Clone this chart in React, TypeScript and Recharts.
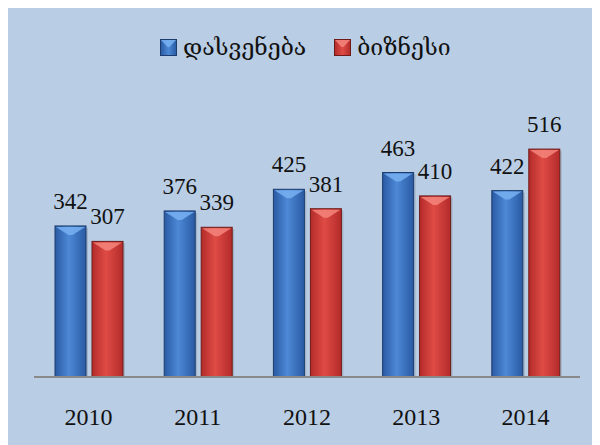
import { BarChart, Bar, XAxis, YAxis, Legend, LabelList } from "recharts";

const years = ["2010", "2011", "2012", "2013", "2014"];
const leisure = [342, 376, 425, 463, 422];
const business = [307, 339, 381, 410, 516];

const LEISURE = "დასვენება";
const BUSINESS = "ბიზნესი";

const data = years.map((year, i) => ({
  year,
  leisure: leisure[i],
  business: business[i],
}));

const PALETTE = {
  blue: { edge: "#2a5aa3", mid: "#4d89d6", bevel: "#78b2f2", line: "#1c3c6e" },
  red: { edge: "#b32b2a", mid: "#df4b45", bevel: "#f4857c", line: "#6e1a18" },
};

const SERIF = "'Liberation Serif', 'Times New Roman', serif";

function BevelBar(props: any) {
  const { x, y, width, height, tone } = props;
  if (!height || height <= 0) return null;
  const c = PALETTE[tone as "blue" | "red"];
  const id = `grad-${tone}`;
  const bevel = Math.min(9, width / 3);
  return (
    <g>
      <defs>
        <linearGradient id={id} x1="0" y1="0" x2="1" y2="0">
          <stop offset="0%" stopColor={c.edge} />
          <stop offset="45%" stopColor={c.mid} />
          <stop offset="100%" stopColor={c.edge} />
        </linearGradient>
      </defs>
      <rect x={x + 2} y={y + 2} width={width} height={height - 2} fill="rgba(0,0,0,0.12)" />
      <rect x={x} y={y} width={width} height={height} fill={`url(#${id})`} stroke={c.line} strokeWidth={1} />
      <polygon
        points={`${x + 1},${y + 1} ${x + width - 1},${y + 1} ${x + width / 2 + 2},${y + bevel} ${x + width / 2 - 2},${y + bevel}`}
        fill={c.bevel}
        opacity={0.85}
      />
    </g>
  );
}

function ValueLabel(props: any) {
  const { x, y, width, value } = props;
  return (
    <text
      x={Number(x) + Number(width) / 2}
      y={Number(y) - 17}
      textAnchor="middle"
      style={{ fill: "#111", fontSize: 23, fontFamily: SERIF }}
    >
      {value}
    </text>
  );
}

function LegendBox() {
  const item = (tone: "blue" | "red", label: string) => (
    <div style={{ display: "flex", alignItems: "center", marginRight: 28 }}>
      <svg width={17} height={17} style={{ marginRight: 6 }}>
        <defs>
          <linearGradient id={`lg-${tone}`} x1="0" y1="0" x2="1" y2="0">
            <stop offset="0%" stopColor={PALETTE[tone].edge} />
            <stop offset="50%" stopColor={PALETTE[tone].mid} />
            <stop offset="100%" stopColor={PALETTE[tone].edge} />
          </linearGradient>
        </defs>
        <rect x={0.5} y={0.5} width={16} height={16} fill={`url(#lg-${tone})`} stroke={PALETTE[tone].line} />
        <polygon points="1,1 16,1 9.5,8 7.5,8" fill={PALETTE[tone].bevel} opacity={0.85} />
      </svg>
      <span style={{ fontFamily: "'DejaVu Serif', 'DejaVu Sans'", fontSize: 23, color: "#111" }}>{label}</span>
    </div>
  );
  return (
    <div style={{ display: "flex", alignItems: "center" }}>
      {item("blue", LEISURE)}
      {item("red", BUSINESS)}
    </div>
  );
}

export default function App() {
  return (
    <div style={{ marginLeft: -4, width: 596, height: 437, background: "#b9cde4" }}>
      <BarChart
        width={596}
        height={437}
        data={data}
        margin={{ top: 54, right: 20, bottom: 8, left: 30 }}
        barSize={31}
        barGap={6}
      >
        <Legend
          verticalAlign="top"
          height={50}
          content={() => <LegendBox />}
          wrapperStyle={{ top: 26, left: 156, width: "auto" }}
        />
        <XAxis
          dataKey="year"
          axisLine={{ stroke: "#8a8a8a", strokeWidth: 2 }}
          tickLine={false}
          tickMargin={25}
          height={60}
          tick={{ fill: "#111", fontSize: 24, fontFamily: SERIF }}
        />
        <YAxis hide domain={[0, 600]} />
        <Bar
          dataKey="leisure"
          name={LEISURE}
          isAnimationActive={false}
          shape={(p: any) => <BevelBar {...p} tone="blue" />}
        >
          <LabelList dataKey="leisure" content={<ValueLabel />} />
        </Bar>
        <Bar
          dataKey="business"
          name={BUSINESS}
          isAnimationActive={false}
          shape={(p: any) => <BevelBar {...p} tone="red" />}
        >
          <LabelList dataKey="business" content={<ValueLabel />} />
        </Bar>
      </BarChart>
    </div>
  );
}
